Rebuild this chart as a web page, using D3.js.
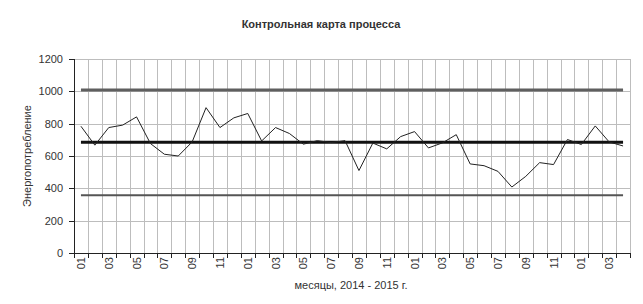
<!DOCTYPE html>
<html>
<head>
<meta charset="utf-8">
<script src="https://d3js.org/d3.v7.min.js"></script>
<style>
    body { margin: 0; background: #fff; }
    svg text { font-family: "Liberation Sans", Arial, sans-serif; fill: #333; }
    .grid line { stroke: #bdbdbd; stroke-width: 1; }
    .axis path, .axis line { stroke: #222; shape-rendering: crispEdges; }
</style>
</head>
<body>
<svg class="target" width="643" height="304"></svg>
<script>

    // месяцы 2014/01 .. 2017/04 (подписи каждые два месяца)
    let months = ["01","02","03","04","05","06","07","08","09","10","11","12",
                  "01","02","03","04","05","06","07","08","09","10","11","12",
                  "01","02","03","04","05","06","07","08","09","10","11","12",
                  "01","02","03","04"];

    let energy = [784, 667, 776, 791, 842, 677, 611, 600, 687, 899,
                  776, 836, 863, 693, 776, 739, 673, 695, 683, 695,
                  510, 680, 644, 720, 751, 650, 681, 732, 551, 540,
                  505, 408, 474, 559, 547, 702, 671, 786, 687, 662];

    let ucl = 1008, centerLine = 685, lcl = 357;
    let yTicks = [0, 200, 400, 600, 800, 1000, 1200];

    let svg = d3.select(".target"),
        margin = {left: 74, right: 13, top: 59, bottom: 51},
        width = +svg.attr("width") - margin.left - margin.right,
        height = +svg.attr("height") - margin.top - margin.bottom;

    let idx = d3.range(months.length);

    let x = d3.scaleBand().domain(idx).range([0, width]);
    let y = d3.scaleLinear().domain([0, 1200]).range([height, 0]);

    let g = svg.append("g")
        .attr("transform", "translate(" + margin.left + "," + margin.top + ")");

    // сетка
    let grid = g.append("g").attr("class", "grid");
    grid.selectAll(".hg").data(yTicks.slice(1))
        .enter().append("line")
        .attr("x1", 0).attr("x2", width)
        .attr("y1", d => Math.round(y(d)) + 0.5).attr("y2", d => Math.round(y(d)) + 0.5);
    grid.selectAll(".vg").data(idx.slice(1).concat([idx.length]))
        .enter().append("line")
        .attr("x1", d => Math.round(d * x.bandwidth()) + 0.5)
        .attr("x2", d => Math.round(d * x.bandwidth()) + 0.5)
        .attr("y1", 0).attr("y2", height);

    // оси
    g.append("g")
        .attr("class", "axis")
        .call(d3.axisLeft(y).tickValues(yTicks).tickFormat(d3.format("d")).tickSize(5).tickPadding(6))
        .call(a => a.selectAll("text").style("font-size", "11px"));

    let xAxis = g.append("g")
        .attr("class", "axis")
        .attr("transform", "translate(0," + height + ")");
    xAxis.append("line")
        .attr("x1", 0).attr("x2", width).attr("y1", 0.5).attr("y2", 0.5);
    xAxis.selectAll(".tk").data(d3.range(months.length + 1))
        .enter().append("line")
        .attr("x1", d => Math.round(d * x.bandwidth()) + 0.5)
        .attr("x2", d => Math.round(d * x.bandwidth()) + 0.5)
        .attr("y1", 0).attr("y2", 5);
    xAxis.selectAll("text").data(idx.filter(i => i % 2 === 0))
        .enter().append("text")
        .attr("transform", d => "translate(" + (x(d) + x.bandwidth() / 2 + 4) + ",4) rotate(-90)")
        .attr("text-anchor", "end")
        .style("font-size", "11px")
        .text(d => months[d]);

    // контрольные границы
    let cx0 = x(0) + x.bandwidth() / 2,
        cx1 = x(months.length - 1) + x.bandwidth() / 2;
    let limits = [
        {v: ucl, w: 3, c: "#5f5f5f"},
        {v: centerLine, w: 3, c: "#111"},
        {v: lcl, w: 2, c: "#555"}
    ];
    g.selectAll(".limit").data(limits)
        .enter().append("line")
        .attr("x1", cx0).attr("x2", cx1)
        .attr("y1", d => y(d.v)).attr("y2", d => y(d.v))
        .attr("stroke", d => d.c)
        .attr("stroke-width", d => d.w);

    // процесс
    let line = d3.line()
        .x((d, i) => x(i) + x.bandwidth() / 2)
        .y(d => y(d));
    g.append("path")
        .datum(energy)
        .attr("fill", "none")
        .attr("stroke", "#222")
        .attr("stroke-width", 1)
        .attr("d", line);

    // подписи
    svg.append("text")
        .attr("x", 321).attr("y", 28)
        .attr("text-anchor", "middle")
        .style("font-size", "11px").style("font-weight", "bold")
        .text("Контрольная карта процесса");

    svg.append("text")
        .attr("transform", "translate(31," + (margin.top + height / 2) + ") rotate(-90)")
        .attr("text-anchor", "middle")
        .style("font-size", "11px")
        .text("Энергопотребление");

    svg.append("text")
        .attr("x", 351).attr("y", 289)
        .attr("text-anchor", "middle")
        .style("font-size", "11px")
        .text("месяцы, 2014 - 2015 г.");

</script>
</body>
</html>
